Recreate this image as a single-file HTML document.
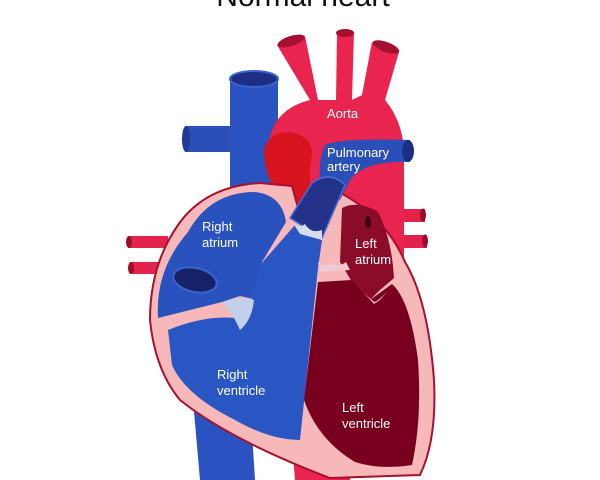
<!DOCTYPE html>
<html><head><meta charset="utf-8"><style>
html,body{margin:0;padding:0;background:#fff;width:600px;height:480px;overflow:hidden}
svg{display:block}
text{font-family:"Liberation Sans",sans-serif;fill:#fff;font-size:13px}
</style></head><body>
<svg width="600" height="480" viewBox="0 0 600 480">
<text x="303" y="6" text-anchor="middle" style="fill:#111;font-size:30px">Normal heart</text>
<rect x="128" y="236" width="40" height="12" fill="#e4234c"/>
<ellipse cx="129" cy="242" rx="3" ry="6" fill="#9c0d2a"/>
<rect x="130" y="262" width="40" height="12" fill="#e4234c"/>
<ellipse cx="131" cy="268" rx="3" ry="6" fill="#9c0d2a"/>
<rect x="385" y="209" width="40" height="13" fill="#e4234c"/>
<ellipse cx="423" cy="215" rx="3" ry="6.5" fill="#9c0d2a"/>
<rect x="385" y="235" width="42" height="13" fill="#e4234c"/>
<ellipse cx="425" cy="241" rx="3" ry="6.5" fill="#9c0d2a"/>
<rect x="185" y="126" width="50" height="26" fill="#2a4fb8"/>
<ellipse cx="186" cy="139" rx="4" ry="13" fill="#213a94"/>
<rect x="230" y="78" width="48" height="160" fill="#2a52c0"/>
<ellipse cx="254" cy="79" rx="24" ry="8" fill="#1c2f85" stroke="#3a63cf" stroke-width="2"/>
<path d="M193,400 L250,400 L255,480 L200,480 Z" fill="#2a52c0"/>
<path d="M277,45 L305,36 L318,100 L336,100 L337,34 L354,32 L352,100 L362,95 L372,42 L399,52 L385,100 Q402,120 404,150 L404,340 L300,340 L296,240 Q268,200 268,150 Q270,110 310,100 Z" fill="#e8244f"/>
<ellipse cx="291" cy="41" rx="14" ry="5" transform="rotate(-18 291 41)" fill="#a50f30"/>
<ellipse cx="345" cy="33" rx="9" ry="4" fill="#a50f30"/>
<ellipse cx="386" cy="47" rx="14" ry="5" transform="rotate(20 386 47)" fill="#a50f30"/>
<path d="M290,420 L345,420 L350,480 L295,480 Z" fill="#e8244f"/>
<path d="M264,150 Q268,132 290,132 Q312,135 312,155 Q305,185 320,215 L335,265 L314,268 L300,215 Q264,190 264,150 Z" fill="#d8141f"/>
<path d="M178,225 Q205,186 260,183 L292,186 L300,215 L335,190 Q385,215 405,262 Q428,300 434,380 Q437,440 420,475 L330,478 Q230,440 180,400 Q155,370 150,320 Q150,265 178,225 Z" fill="#f7b8ba" stroke="#a8102e" stroke-width="2"/>
<path d="M188,232 Q210,192 255,192 Q282,195 286,222 L262,262 L258,300 L240,296 L222,302 Q190,310 158,318 Q155,270 188,232 Z" fill="#2a52bf"/>
<ellipse cx="195" cy="280" rx="22" ry="12" transform="rotate(12 195 280)" fill="#15226a" stroke="#3a64cc" stroke-width="2"/>
<path d="M168,330 Q205,315 235,318 L248,318 L260,265 L295,225 L322,240 L318,268 L300,440 Q270,440 235,420 Q185,395 172,365 Z" fill="#2a56c4"/>
<path d="M222,302 Q240,296 254,300 Q252,320 240,330 Q232,312 222,302 Z" fill="#c3d0ec"/>
<path d="M325,145 Q340,138 410,140 L410,162 Q365,160 350,180 L340,200 L320,185 Q318,160 325,145 Z" fill="#2a4fb8"/>
<ellipse cx="408" cy="151" rx="6" ry="11" fill="#1c2f85"/>
<path d="M290,218 L312,183 Q330,170 345,185 L322,238 Z" fill="#243289" stroke="#4a6dd6" stroke-width="1.5"/>
<path d="M291,220 q6,10 14,4 q6,10 17,6 L322,240 L300,234 Z" fill="#d6dcf0"/>
<path d="M342,208 Q358,200 378,212 Q392,240 394,278 L380,290 L370,300 L352,282 L340,262 Z" fill="#8a0c28"/>
<ellipse cx="368" cy="222" rx="3" ry="6" fill="#3a0010"/>
<path d="M318,262 q8,6 14,0 q6,6 14,0 L350,270 L320,272 Z" fill="#f0c8d4"/>
<path d="M318,282 L352,280 L370,300 L392,284 Q410,300 418,360 Q422,420 412,465 Q380,470 355,462 Q318,440 304,400 Z" fill="#78001e"/>
<path d="M356,284 Q368,298 375,302 Q384,296 392,286 L380,300 L374,304 Z" fill="#f0b0c0"/>
<text x="327" y="118">Aorta</text>
<text x="327" y="157">Pulmonary</text>
<text x="327" y="171">artery</text>
<text x="202" y="231">Right</text>
<text x="202" y="247">atrium</text>
<text x="355" y="248">Left</text>
<text x="355" y="264">atrium</text>
<text x="217" y="379">Right</text>
<text x="217" y="395">ventricle</text>
<text x="342" y="412">Left</text>
<text x="342" y="428">ventricle</text>
</svg>
</body></html>
